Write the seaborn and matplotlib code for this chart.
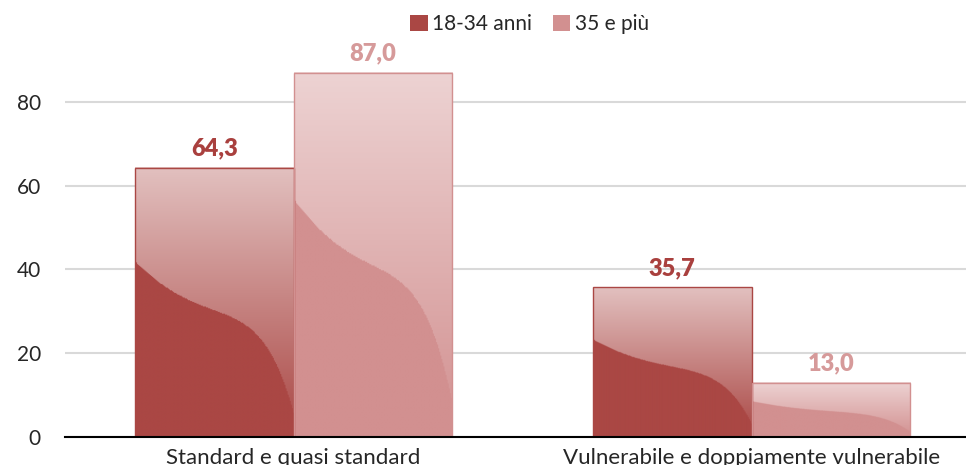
"""
Grouped bar chart: contract type by age group (gradient-styled bars).
"""

import matplotlib

matplotlib.use("Agg")
import matplotlib.pyplot as plt
import numpy as np
import pandas as pd
import seaborn as sns
from matplotlib.colors import to_rgb
from matplotlib.patches import Patch

# Data
categories = ["Standard e quasi standard", "Vulnerabile e doppiamente vulnerabile"]
series = ["18-34 anni", "35 e più"]
values_young = [64.3, 35.7]
values_old = [87.0, 13.0]
yticks = [0, 20, 40, 60, 80]

colors = {"18-34 anni": "#AA4744", "35 e più": "#D29090"}
label_colors = {"18-34 anni": "#A9403E", "35 e più": "#D69A9A"}

df = pd.DataFrame(
    {
        "categoria": categories * 2,
        "eta": [series[0]] * 2 + [series[1]] * 2,
        "valore": values_young + values_old,
    }
)

sns.set_style("white")
plt.rcParams["font.family"] = ["Lato", "DejaVu Sans"]
plt.rcParams["text.color"] = "#262626"

fig = plt.figure(figsize=(9.66, 4.65), dpi=100)
# axes extends a little past the right edge, as in the original
ax = fig.add_axes([64.5 / 966, 28 / 465, 916 / 966, 377 / 465])

sns.barplot(
    data=df,
    x="categoria",
    y="valore",
    hue="eta",
    order=categories,
    hue_order=series,
    palette=colors,
    width=0.692,
    gap=0,
    saturation=1,
    ax=ax,
    legend=False,
)

ylim = (0, 90)
xlim = (-0.5, 1.5)


def wave(t):
    # S-shaped boundary between solid base and the glossy gradient
    return 0.65 - 0.2 * (1 - (1 - t) ** 3) - 0.36 * t**6


# Glossy overlay on each bar
for name, cont in zip(series, ax.containers):
    base = np.array(to_rgb(colors[name]))
    strength = 0.66 if name == series[0] else 0.6
    for bar in cont:
        x0, w = bar.get_x(), bar.get_width()
        h = bar.get_height()
        ny, nx = 300, 150
        s = np.linspace(1, 0, ny)[:, None]  # 1 at top, 0 at bottom
        t = np.linspace(0, 1, nx)[None, :]
        wmix = strength * s
        grad = base * (1 - wmix[..., None]) + np.ones(3) * wmix[..., None]
        grad = np.broadcast_to(grad, (ny, nx, 3)).copy()
        below = s < wave(t)
        grad[below] = base
        ax.imshow(
            grad,
            extent=(x0, x0 + w, 0, h),
            aspect="auto",
            zorder=2,
            interpolation="bilinear",
        )
        bar.set_facecolor("none")
        bar.set_edgecolor(colors[name])
        bar.set_linewidth(1.0)
        bar.set_zorder(3)

    ax.bar_label(
        cont,
        labels=[f"{b.get_height():.1f}".replace(".", ",") for b in cont],
        padding=6,
        fontsize=17,
        fontweight="heavy",
        color=label_colors[name],
    )

ax.set_xlim(*xlim)
ax.set_ylim(*ylim)
ax.set_yticks(yticks)
ax.set_xlabel("")
ax.set_ylabel("")
ax.tick_params(axis="y", length=0, pad=17, labelsize=15, labelcolor="#262626")
ax.tick_params(axis="x", length=0, pad=8, labelsize=16, labelcolor="#262626")

ax.set_axisbelow(True)
ax.yaxis.grid(True, color="#D9D9D9", linewidth=1.5)
for side in ["left", "right", "top"]:
    ax.spines[side].set_visible(False)
ax.spines["bottom"].set_color("black")
ax.spines["bottom"].set_linewidth(1.5)
ax.spines["bottom"].set_zorder(4)

handles = [Patch(facecolor=colors[s], edgecolor="none", label=s) for s in series]
fig.legend(
    handles=handles,
    loc="upper center",
    bbox_to_anchor=(0.548, 1.01),
    ncol=2,
    frameon=False,
    fontsize=15,
    handlelength=0.85,
    handleheight=0.85,
    handletextpad=0.2,
    columnspacing=1.0,
)

fig.savefig("out.png", dpi=100)
